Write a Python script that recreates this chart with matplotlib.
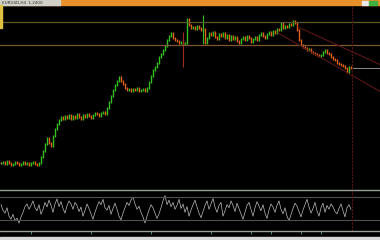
import matplotlib
matplotlib.use("Agg")
import matplotlib.pyplot as plt
from matplotlib.patches import Rectangle
import numpy as np

# ---- data ----
closes = [
    1.050,1.052,1.048,1.054,1.051,1.047,1.049,1.053,1.050,1.046,1.048,1.052,1.049,1.051,1.047,1.050,1.053,1.048,1.046,1.050,
    1.062,1.074,1.088,1.100,1.090,1.084,1.104,1.118,1.128,1.136,
    1.142,1.138,1.144,1.140,1.146,1.139,1.143,1.141,1.147,1.142,1.138,1.145,1.143,1.148,1.144,1.141,1.146,1.150,1.147,1.145,1.149,1.152,1.148,
    1.160,1.172,1.184,1.196,1.206,1.214,1.222,
    1.214,1.208,1.200,1.196,
    1.198,1.194,1.197,1.195,1.199,1.193,1.196,1.198,1.194,1.200,
    1.212,1.224,1.236,1.242,1.250,1.262,1.268,1.276,1.284,1.296,1.304,1.310,
    1.300,1.296,1.294,1.290,1.292,1.288,1.290,
    1.338,
    1.326,1.320,1.322,1.318,1.324,1.320,1.316,1.318,
    1.290,
    1.300,1.310,1.306,1.312,1.302,1.298,1.308,1.304,1.310,1.300,1.306,1.296,1.304,1.298,1.302,1.294,1.290,1.298,1.302,1.296,1.304,1.300,1.292,
    1.298,1.302,1.296,1.306,1.310,1.304,1.300,1.308,1.312,1.306,1.314,1.310,1.318,1.316,1.330,
    1.320,1.324,1.322,1.328,1.326,1.334,1.330,
    1.316,1.296,1.286,1.282,1.280,
    1.276,1.278,1.272,1.270,1.268,1.266,1.264,1.266,
    1.272,1.276,1.270,
    1.268,1.262,1.258,1.256,1.250,1.248,1.246,1.244,1.240,
    1.232,1.242,1.240,
]
spike_bars = [91, 101]
spike_highs = [1.312, 1.346]
spike_lows = [1.242, 1.288]

oscillator = [
    60,45,38,52,30,22,35,18,25,12,28,40,55,62,48,58,70,52,44,60,
    35,48,66,54,72,58,40,62,75,55,68,50,38,57,70,62,48,66,58,42,
    54,30,45,62,50,36,22,40,55,68,60,74,52,46,58,35,50,64,48,30,
    20,38,52,66,58,72,80,62,48,56,40,28,12,30,46,60,52,38,24,36,
    52,70,84,60,72,55,66,48,58,74,50,62,40,55,30,46,60,72,54,38,
    26,42,58,70,48,62,76,54,40,58,66,30,44,60,52,70,58,42,64,50,
    36,22,40,58,66,48,30,52,68,56,44,60,38,24,46,62,54,40,58,70,
    48,36,52,30,18,34,50,64,56,42,28,46,60,74,54,38,50,66,44,30,
    52,64,40,58,48,62,54,42,36,50,62,44,28,52,60,48,
]
osc_levels = [80, 20]

resistance_levels = [1.332, 1.286]
channel_upper_x = [148.5, 190.0]
channel_upper_y = [1.322, 1.246]
channel_lower_x = [138.5, 190.0]
channel_lower_y = [1.310, 1.192]
tick_bars = [15, 45, 75, 105, 125, 135, 150, 160]

# ---- figure ----
W, H = 380, 240
fig = plt.figure(figsize=(W/100, H/100), dpi=100)
fig.patch.set_facecolor("black")

def frac_rect(x0, y0, x1, y1):
    return [x0/W, 1 - y1/H, (x1 - x0)/W, (y1 - y0)/H]

ax = fig.add_axes(frac_rect(0, 5, W, 189))
ax.set_facecolor("black")
n = len(closes)
up_c, dn_c, flat_c = "#34c020", "#e0601a", "#b0a850"
opens = [closes[0]] + closes[:-1]
for i in range(n):
    o, c = opens[i], closes[i]
    col = up_c if c >= o else dn_c
    if abs(c - o) < 0.0015:
        col = flat_c
    lo, hi = min(o, c), max(o, c)
    ax.vlines(i, lo - 0.002, hi + 0.002, color=col, lw=1.0, snap=True)
for b, h, l in zip(spike_bars, spike_highs, spike_lows):
    col = up_c if closes[b] >= opens[b] else "#a02a1a"
    ax.vlines(b, l, h, color=col, lw=0.8, snap=True)

ax.axhline(resistance_levels[0], color="#5e5a26", lw=0.9)
ax.axhline(resistance_levels[1], color="#7e5630", lw=0.9)
ax.plot(channel_upper_x, channel_upper_y, color="#5a1616", lw=0.8)
ax.plot(channel_lower_x, channel_lower_y, color="#5a1616", lw=0.8)
ax.plot([n - 0.5, 190], [closes[-1], closes[-1]], color="#8a8a8a", lw=0.7)
ax.axvline(n - 0.5, color="#5a1414", lw=0.8, ls=(0, (2, 1)))
ax.set_xlim(-0.5, 189.5)
ax.set_ylim(0.998, 1.366)
ax.set_xticks([]); ax.set_yticks([])
for s in ax.spines.values():
    s.set_visible(False)

ax2 = fig.add_axes(frac_rect(0, 190, W, 231))
ax2.set_facecolor("black")
ax2.plot(np.arange(len(oscillator)), oscillator, color="#bcbcbc", lw=0.5)
for lv in osc_levels:
    ax2.axhline(lv, color="#505050", lw=0.8)
ax2.axvline(n - 0.5, color="#5a1414", lw=0.8, ls=(0, (2, 1)))
ax2.set_xlim(-0.5, 189.5)
ax2.set_ylim(-8.7, 98.3)
ax2.set_yticks([])
ax2.set_xticks(tick_bars)
ax2.tick_params(axis="x", direction="out", length=2, width=0.6, color="#5aa0a0",
                labelbottom=False)
for k, s in ax2.spines.items():
    if k in ("top", "bottom"):
        s.set_color("#98a098"); s.set_linewidth(1.0)
    else:
        s.set_visible(False)

# window chrome
fig.patches.append(Rectangle((0, 1 - 5/H), 1, 5/H, transform=fig.transFigure, color="#e8902a", zorder=0))
fig.patches.append(Rectangle((0, 1 - 5/H), 60/W, 5/H, transform=fig.transFigure, color="#d0d0c8", zorder=1))
fig.text(2/W, 1 - 4.5/H, "EURUSD,H4  1.2400", fontsize=3, color="#303030")
fig.patches.append(Rectangle((362/W, 1 - 5/H), 6/W, 4/H, transform=fig.transFigure, color="#e8e8e8", zorder=2))
fig.patches.append(Rectangle((369/W, 1 - 5/H), 8/W, 4/H, transform=fig.transFigure, color="#40b040", zorder=2))
fig.patches.append(Rectangle((0, 1 - 28/H), 2/W, 23/H, transform=fig.transFigure, color="#e0c040", zorder=2))
fig.patches.append(Rectangle((0, 0), 1, 3/H, transform=fig.transFigure, color="#d8d8d8", zorder=2))

fig.savefig("out.png", dpi=100, facecolor="black")
